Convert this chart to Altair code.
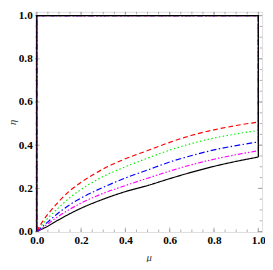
import altair as alt
import pandas as pd

# ---- data ----
MU = [0.0, 0.025, 0.05, 0.1, 0.15, 0.2, 0.3, 0.4, 0.5, 0.6, 0.7, 0.8, 0.9, 1.0]
SERIES = ["black", "magenta", "blue", "green", "red"]
ETA = {
    "red":     [0.0, 0.045, 0.08, 0.14, 0.19, 0.228, 0.29, 0.337, 0.375, 0.413, 0.446, 0.471, 0.491, 0.507],
    "green":   [0.0, 0.033, 0.062, 0.112, 0.158, 0.195, 0.255, 0.300, 0.340, 0.377, 0.408, 0.433, 0.452, 0.468],
    "blue":    [0.0, 0.022, 0.045, 0.088, 0.125, 0.155, 0.205, 0.248, 0.285, 0.322, 0.352, 0.378, 0.398, 0.415],
    "magenta": [0.0, 0.017, 0.036, 0.072, 0.104, 0.132, 0.177, 0.213, 0.247, 0.280, 0.310, 0.335, 0.356, 0.374],
    "black":   [0.0, 0.012, 0.025, 0.055, 0.083, 0.108, 0.150, 0.185, 0.213, 0.245, 0.275, 0.302, 0.325, 0.345],
}
# closing boundary of each region: right edge, top edge, left edge
CLOSE_MU = [1.0, 1.0, 0.0, 0.0]
CLOSE_ETA_TOP = [1.0, 1.0, 0.0]

COLORS = ["#000000", "#ff00ff", "#0000ff", "#00ee00", "#ff0000"]
DASHES = [[1, 0], [5, 2, 1.5, 2, 1.5, 2], [6, 2.5, 1.5, 2.5], [1.5, 2.5], [5, 3]]

MAJOR = [0.0, 0.2, 0.4, 0.6, 0.8, 1.0]
MINOR = [i * 0.05 for i in range(21)]

X_DOM = [-0.0074, 1.017]
Y_DOM = [-0.002, 1.0175]

W, H = 234, 227

curve_rows, close_rows = [], []
for s in SERIES:
    for i, (m, e) in enumerate(zip(MU, ETA[s])):
        curve_rows.append({"s": s, "mu": m, "eta": e, "o": i})
    ys = [ETA[s][-1]] + CLOSE_ETA_TOP
    for i, (m, e) in enumerate(zip(CLOSE_MU, ys)):
        close_rows.append({"s": s, "mu": m, "eta": e, "o": i})
curve_df = pd.DataFrame(curve_rows)
close_df = pd.DataFrame(close_rows)

xs = alt.Scale(domain=X_DOM, nice=False, zero=False)
ys_ = alt.Scale(domain=Y_DOM, nice=False, zero=False)
col = alt.Color("s:N", scale=alt.Scale(domain=SERIES, range=COLORS), legend=None)
dash = alt.StrokeDash("s:N", scale=alt.Scale(domain=SERIES, range=DASHES), legend=None)

FONT = "Liberation Serif"
xaxis = alt.Axis(values=MAJOR, format=".1f", ticks=False, domain=False, grid=False,
                 labelFont=FONT, labelFontWeight="bold", labelFontSize=11.5, labelColor="#000",
                 labelPadding=3, title="μ", titleFont=FONT, titleFontStyle="italic",
                 titleFontWeight="normal", titleFontSize=11, titleColor="#333", titlePadding=6)
yaxis = alt.Axis(values=MAJOR, format=".1f", ticks=False, domain=False, grid=False,
                 labelFont=FONT, labelFontWeight="bold", labelFontSize=11.5, labelColor="#000",
                 labelPadding=3, title="η", titleFont=FONT, titleFontStyle="italic",
                 titleFontWeight="normal", titleFontSize=11, titleColor="#333", titlePadding=1)

curves = alt.Chart(curve_df).mark_line(strokeWidth=1.2, interpolate="monotone").encode(
    x=alt.X("mu:Q", scale=xs, axis=xaxis),
    y=alt.Y("eta:Q", scale=ys_, axis=yaxis),
    color=col, strokeDash=dash, detail="s:N", order="o:Q")

# edges: coloured ones first, black one on top
close_layers = []
for s in ["red", "green", "blue", "magenta", "black"]:
    close_layers.append(
        alt.Chart(close_df).transform_filter(alt.datum.s == s)
        .mark_line(strokeWidth=1.3 if s == "black" else 1.2).encode(
            x=alt.X("mu:Q", scale=xs), y=alt.Y("eta:Q", scale=ys_),
            color=col, strokeDash=dash, order="o:Q"))

TICK = "#9a9a9a"
maj = pd.DataFrame({"v": MAJOR})
mnr = pd.DataFrame({"v": MINOR})

def ticks(df, L):
    b = alt.Chart(df).mark_rule(color=TICK, strokeWidth=0.8)
    return [
        b.encode(x=alt.X("v:Q", scale=xs), y=alt.value(H), y2=alt.value(H - L)),
        b.encode(x=alt.X("v:Q", scale=xs), y=alt.value(0), y2=alt.value(L)),
        b.encode(y=alt.Y("v:Q", scale=ys_), x=alt.value(0), x2=alt.value(L)),
        b.encode(y=alt.Y("v:Q", scale=ys_), x=alt.value(W), x2=alt.value(W - L)),
    ]

chart = alt.layer(*ticks(mnr, 2.5), *ticks(maj, 4.5), curves, *close_layers).properties(
    width=W, height=H,
    autosize=alt.AutoSizeParams(type="none"),
    padding={"left": 28, "top": 0, "right": 3, "bottom": 27},
).configure_view(stroke="#a0a0a0", strokeWidth=1).configure(background="white")

chart.save("out.html", embed_options={"renderer": "svg", "actions": False})
